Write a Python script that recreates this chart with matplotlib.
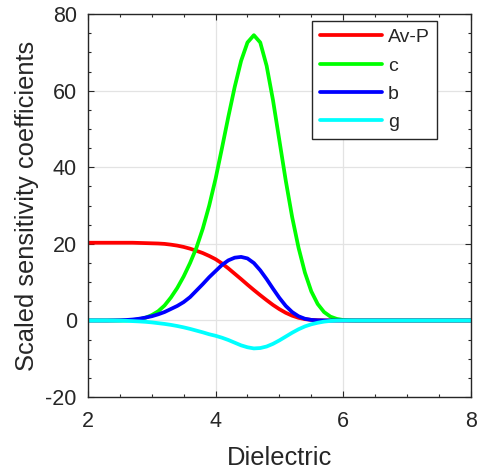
import numpy as np
import matplotlib
matplotlib.use("Agg")
import matplotlib.pyplot as plt
from matplotlib.ticker import MultipleLocator

plt.rcParams['font.family'] = ['Liberation Sans', 'DejaVu Sans']
plt.rcParams['axes.unicode_minus'] = False

# Dielectric grid (0.1 steps from 2 to 8)
dielectric = np.round(np.arange(2.0, 8.001, 0.1), 1)

av_p = [20.3, 20.3, 20.3, 20.3, 20.3, 20.3, 20.3, 20.3, 20.25, 20.2,
        20.15, 20.1, 20.0, 19.8, 19.55, 19.2, 18.75, 18.2, 17.6, 16.85,
        16.0, 14.9, 13.6, 12.2, 10.8, 9.35, 7.95, 6.6, 5.3, 4.05,
        2.95, 2.0, 1.25, 0.7, 0.35, 0.15, 0.06, 0.02, 0.0, 0.0,
        0, 0, 0, 0, 0, 0, 0, 0, 0, 0,
        0, 0, 0, 0, 0, 0, 0, 0, 0, 0, 0]

c_vals = [0, 0, 0, 0, 0, 0, 0, 0.1, 0.3, 0.7,
          1.4, 2.4, 3.9, 6.0, 8.5, 11.5, 15.0, 19.0, 24.0, 30.0,
          37.0, 45.0, 53.2, 61.0, 67.8, 72.6, 74.5, 72.6, 66.5, 57.5,
          47.0, 36.5, 27.0, 19.0, 12.5, 7.6, 4.3, 2.2, 1.0, 0.4,
          0.12, 0.03, 0, 0, 0, 0, 0, 0, 0, 0,
          0, 0, 0, 0, 0, 0, 0, 0, 0, 0, 0]

b_vals = [0, 0, 0, 0, 0.02, 0.05, 0.12, 0.25, 0.45, 0.75,
          1.1, 1.6, 2.2, 3.0, 3.8, 4.8, 6.1, 7.8, 9.5, 11.3,
          12.9, 14.5, 15.7, 16.4, 16.6, 16.2, 15.0, 13.1, 10.8, 8.3,
          5.9, 3.8, 2.2, 1.1, 0.45, 0.15, 0.04, 0.01, 0, 0,
          0, 0, 0, 0, 0, 0, 0, 0, 0, 0,
          0, 0, 0, 0, 0, 0, 0, 0, 0, 0, 0]

g_vals = [0, 0, 0, 0, -0.03, -0.06, -0.1, -0.17, -0.25, -0.35,
          -0.5, -0.7, -0.9, -1.15, -1.45, -1.8, -2.2, -2.65, -3.1, -3.6,
          -4.0, -4.5, -5.1, -5.8, -6.5, -7.0, -7.3, -7.2, -6.8, -6.1,
          -5.2, -4.2, -3.2, -2.3, -1.55, -1.0, -0.6, -0.3, -0.12, -0.05,
          -0.01, 0, 0, 0, 0, 0, 0, 0, 0, 0,
          0, 0, 0, 0, 0, 0, 0, 0, 0, 0, 0]

series = [("Av-P", av_p, "#ff0000"),
          ("c", c_vals, "#00ff00"),
          ("b", b_vals, "#0000ff"),
          ("g", g_vals, "#00ffff")]

dark = "#262626"

fig = plt.figure(figsize=(4.78, 4.71), dpi=100)
ax = fig.add_axes([0.184, 0.157, 0.801, 0.813])

for name, vals, col in series:
    ax.plot(dielectric, vals, color=col, lw=2.7, label=name, solid_capstyle='round')

ax.set_xlim(2, 8)
ax.set_ylim(-20, 80)
ax.xaxis.set_major_locator(MultipleLocator(2))
ax.xaxis.set_minor_locator(MultipleLocator(0.5))
ax.yaxis.set_major_locator(MultipleLocator(20))
ax.yaxis.set_minor_locator(MultipleLocator(5))

ax.grid(True, which='major', color='#e3e3e3', lw=0.9)
ax.set_axisbelow(True)

ax.tick_params(which='both', direction='in', top=True, right=True,
               colors=dark, labelsize=15.5, width=0.8)
ax.tick_params(which='major', length=4)
ax.tick_params(which='minor', length=2)
ax.tick_params(axis='x', which='major', pad=10)
ax.tick_params(axis='y', which='major', pad=8)
for s in ax.spines.values():
    s.set_color(dark)
    s.set_linewidth(1.0)

ax.set_xlabel("Dielectric", fontsize=18.4, color=dark, labelpad=10)
ax.set_ylabel("Scaled sensitivity coefficients", fontsize=18.4, color=dark, labelpad=5)

leg = ax.legend(loc='upper left', bbox_to_anchor=(0.585, 0.9825),
                borderaxespad=0, fontsize=14, handlelength=3.2,
                handletextpad=0.3, labelspacing=0.55, borderpad=0.4,
                fancybox=False, framealpha=1, edgecolor=dark)
leg.get_frame().set_linewidth(1.0)
for t in leg.get_texts():
    t.set_color(dark)

fig.savefig("out.png", dpi=100)
